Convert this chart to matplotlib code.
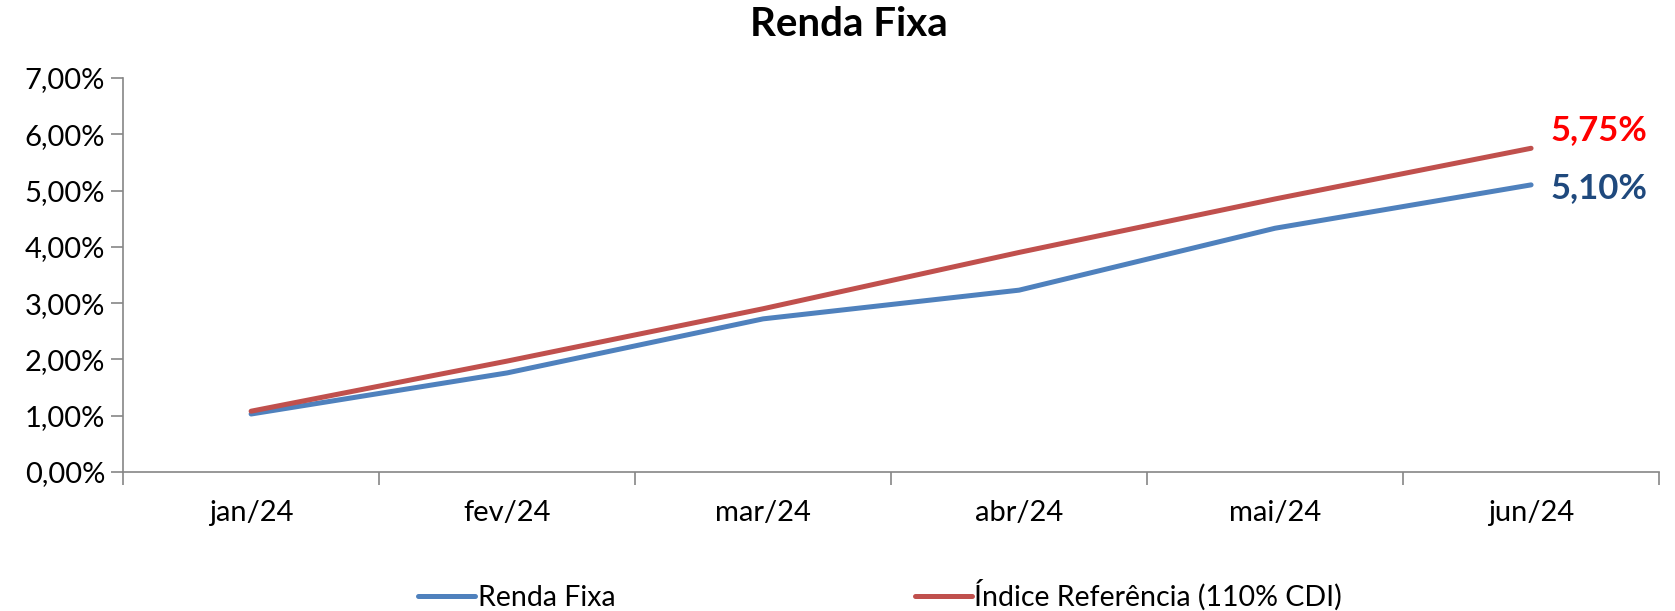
import numpy as np
import matplotlib.pyplot as plt
from matplotlib.ticker import FuncFormatter, FixedLocator

meses = ["jan/24", "fev/24", "mar/24", "abr/24", "mai/24", "jun/24"]
renda_fixa = [1.03, 1.76, 2.72, 3.23, 4.33, 5.10]
indice_ref = [1.08, 1.97, 2.90, 3.90, 4.85, 5.75]
nomes = ["Renda Fixa", "Índice Referência (110% CDI)"]
cores = ["#4F81BD", "#C0504D"]
cores_rotulo = ["#1F497D", "#FF0000"]

plt.rcParams['font.family'] = ['Lato', 'DejaVu Sans']

fig = plt.figure(figsize=(16.75, 6.11), dpi=100)
ax = fig.add_axes([0.0735, 0.2275, 0.917, 0.645])

x = np.arange(len(meses))
for serie, nome, cor in zip([renda_fixa, indice_ref], nomes, cores):
    ax.plot(x, serie, color=cor, linewidth=3.6, label=nome, solid_capstyle='round')

# rotulos finais
ax.annotate("5,75%", (x[-1], indice_ref[-1]), xytext=(14, 13), textcoords='offset points',
            color=cores_rotulo[1], fontsize=25, fontweight='bold', va='center', ha='left')
ax.annotate("5,10%", (x[-1], renda_fixa[-1]), xytext=(14, -2), textcoords='offset points',
            color=cores_rotulo[0], fontsize=25, fontweight='bold', va='center', ha='left')

ax.set_xlim(-0.5, len(meses) - 0.5)
ax.set_ylim(0, 7)
ax.set_yticks(np.arange(0, 8, 1))
ax.yaxis.set_major_formatter(FuncFormatter(lambda v, p: f"{v:.2f}".replace(".", ",") + "%"))

ax.xaxis.set_major_locator(FixedLocator(np.arange(-0.5, len(meses), 1)))
ax.xaxis.set_major_formatter(FuncFormatter(lambda v, p: ""))
ax.xaxis.set_minor_locator(FixedLocator(x))
ax.set_xticklabels(meses, minor=True)
ax.tick_params(axis='x', which='minor', length=0, pad=20, labelsize=21)
ax.tick_params(axis='x', which='major', length=9, width=1.2, color='#868686', direction='out')
ax.tick_params(axis='y', length=9, width=1.2, color='#868686', labelsize=21, pad=4)

for s in ['top', 'right']:
    ax.spines[s].set_visible(False)
for s in ['left', 'bottom']:
    ax.spines[s].set_color('#868686')
    ax.spines[s].set_linewidth(1.2)

fig.suptitle("Renda Fixa", fontsize=29, fontweight='bold', x=0.507, y=0.99)

fig.legend(loc='center', bbox_to_anchor=(0.5255, 0.026), ncol=2, frameon=False,
           fontsize=20.5, columnspacing=10.5, handlelength=2.0, handletextpad=0.1)

fig.savefig("out.png", dpi=100)
